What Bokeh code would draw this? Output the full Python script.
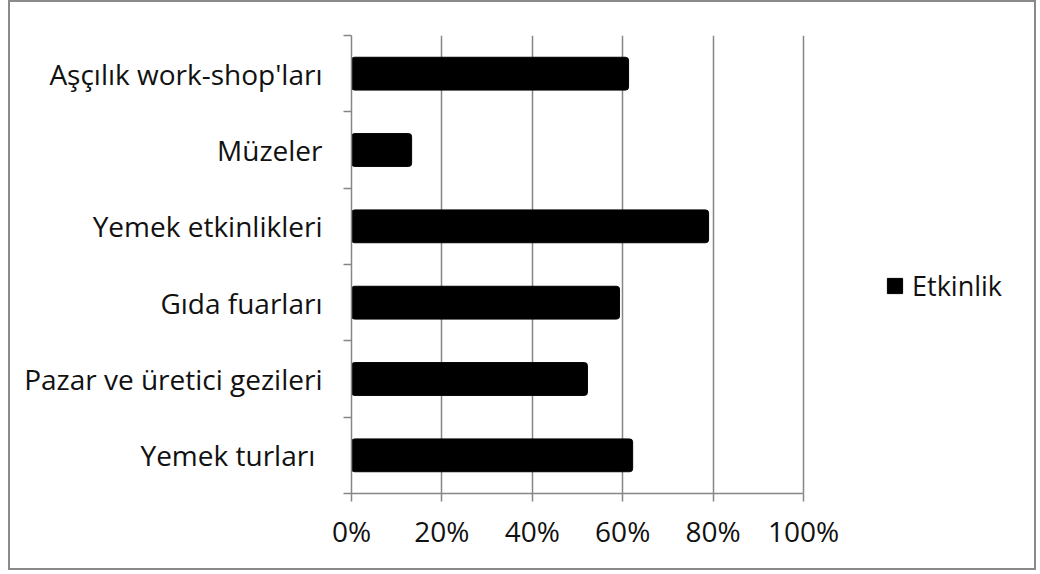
from bokeh.plotting import figure
from bokeh.models import (Range1d, LinearAxis, FixedTicker,
                          NumeralTickFormatter, Legend, LegendItem, ColumnDataSource)
from bokeh.embed import file_html
from bokeh.resources import INLINE

categories = ["Aşçılık work-shop'ları", "Müzeler", "Yemek etkinlikleri",
              "Gıda fuarları", "Pazar ve üretici gezileri", "Yemek turları "]
values = [0.613, 0.133, 0.79, 0.593, 0.522, 0.622]
series_name = "Etkinlik"
x_ticks = [0, 0.2, 0.4, 0.6, 0.8, 1.0]

FONT = "Open Sans"
GRAY = "#868686"

n = len(categories)
centers = [n - i - 0.5 for i in range(n)]
bounds = [float(i) for i in range(n + 1)]
src = ColumnDataSource(dict(y=centers, val=values))

# frame extended to the right (beyond 100%) to host the legend; axis line limited to 0..100%
p = figure(width=1028, height=570, y_range=Range1d(0, n), x_range=Range1d(0, 1.5),
           output_backend="svg", toolbar_location=None, y_axis_location=None,
           x_axis_location=None, min_border_left=341, min_border_right=9,
           min_border_top=33, min_border_bottom=79)
p.styles = {"border": "2px solid #8a8a8a", "margin-left": "8px"}
p.outline_line_color = None

yaxis = LinearAxis(ticker=FixedTicker(ticks=centers, minor_ticks=bounds),
                   major_label_overrides={c: lab for c, lab in zip(centers, categories)},
                   major_tick_line_color=None, major_tick_out=8, major_tick_in=0,
                   minor_tick_out=8, minor_tick_in=0,
                   minor_tick_line_color=GRAY, minor_tick_line_width=1.5,
                   axis_line_color=GRAY, axis_line_width=1.5,
                   major_label_standoff=21,
                   major_label_text_font=FONT, major_label_text_font_size="28px",
                   major_label_text_color="#111111")
p.add_layout(yaxis, "left")

xaxis = LinearAxis(ticker=FixedTicker(ticks=x_ticks), formatter=NumeralTickFormatter(format="0%"),
                   bounds=(0, 1),
                   major_tick_out=8, major_tick_in=0, minor_tick_line_color=None,
                   axis_line_color=GRAY, major_tick_line_color=GRAY,
                   axis_line_width=1.5, major_tick_line_width=1.5,
                   major_label_text_font=FONT, major_label_text_font_size="28px",
                   major_label_text_color="#111111", major_label_standoff=10)
p.add_layout(xaxis, "below")

p.xgrid.ticker = FixedTicker(ticks=x_ticks)
p.xgrid.grid_line_color = GRAY
p.xgrid.grid_line_width = 1.5
p.ygrid.grid_line_color = None

r = p.hbar(y="y", right="val", left=0, height=0.43, source=src,
           fill_color="black", line_color="black", line_width=1, border_radius=3)

legend = Legend(items=[LegendItem(label=series_name, renderers=[r])],
                location=(534, 189), orientation="vertical",
                label_text_font=FONT, label_text_font_size="27px", label_text_color="#111111",
                glyph_width=19, glyph_height=19, label_standoff=8,
                border_line_color=None, background_fill_alpha=0, padding=0, margin=0)
p.add_layout(legend, "center")

open("out.html", "w").write(file_html(p, INLINE))
